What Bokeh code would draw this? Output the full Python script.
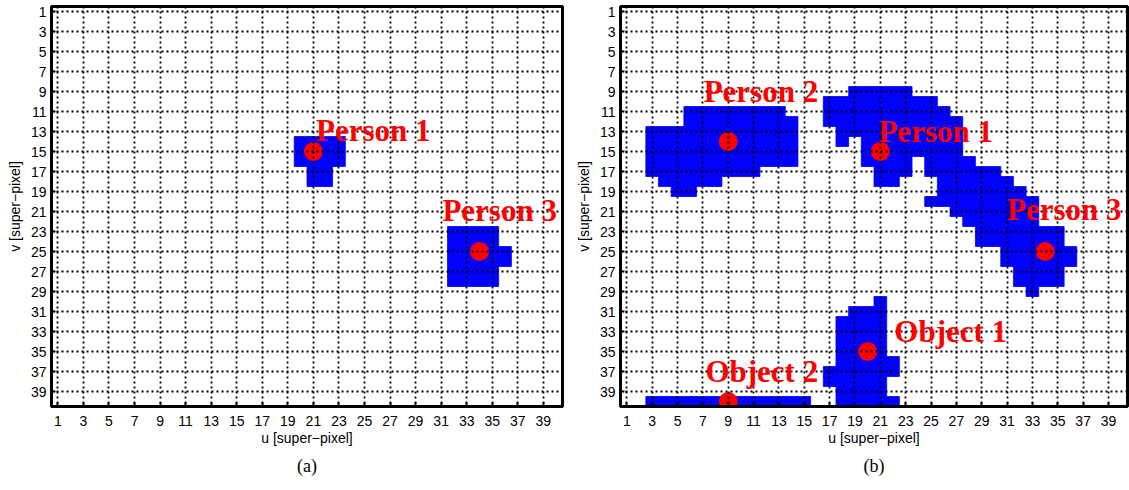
from bokeh.plotting import figure
from bokeh.layouts import row
from bokeh.models import Range1d, FixedTicker, Title, ColumnDataSource
from bokeh.core.properties import value
from bokeh.embed import file_html
from bokeh.resources import INLINE

# tick labels (odd super-pixel indices)
ticks = list(range(1, 40, 2))

# ---------------- panel (a): foreground runs (row v, first u, last u)
a_rows  = [14, 15, 16, 17, 18, 23, 24, 25, 26, 27, 28]
a_first = [20, 20, 20, 21, 21, 32, 32, 32, 32, 32, 32]
a_last  = [23, 23, 23, 22, 22, 35, 35, 36, 36, 35, 35]
a_dot_u = [21, 34]
a_dot_v = [15, 25]
a_lab_text = ["Person 1", "Person 3"]
a_lab_u = [21.2, 31.1]
a_lab_v = [12.85, 20.85]

# ---------------- panel (b): foreground runs (row v, first u, last u)
b_rows  = [11, 12, 13, 14, 15, 16, 17, 18, 19,
           9, 10, 11, 12, 13, 14, 14, 15, 16, 16, 17, 17, 18, 18,
           19, 20, 21, 22, 23, 24, 25, 26, 27, 28, 29,
           30, 31, 32, 33, 34, 35, 36, 37, 38, 39, 40,
           40]
b_first = [6, 6, 3, 3, 3, 3, 3, 4, 5,
           19, 17, 17, 17, 18, 18, 20, 20, 20, 25, 21, 25, 21, 26,
           26, 25, 27, 28, 29, 29, 31, 31, 32, 32, 33,
           21, 19, 18, 18, 18, 18, 18, 17, 17, 18, 18,
           3]
b_last  = [13, 14, 14, 14, 14, 14, 11, 8, 6,
           23, 25, 26, 27, 27, 18, 27, 27, 23, 28, 23, 30, 22, 31,
           32, 33, 33, 33, 35, 35, 36, 36, 35, 35, 33,
           21, 21, 21, 21, 21, 21, 22, 22, 21, 21, 22,
           15]
b_dot_u = [9, 21, 34, 20, 9]
b_dot_v = [14, 15, 25, 35, 40]
b_lab_text = ["Person 2", "Person 1", "Person 3", "Object 1", "Object 2"]
b_lab_u = [7.06, 20.85, 31.0, 22.1, 7.2]
b_lab_v = [8.95, 12.95, 20.75, 32.95, 36.95]


def make_panel(rows, first, last, du, dv, lt, lu, lv, caption,
               border_left, frame_w, border_right):
    p = figure(frame_width=frame_w, frame_height=400,
               x_range=Range1d(0.5, 40.5), y_range=Range1d(40.5, 0.5),
               output_backend="svg", toolbar_location=None,
               min_border_left=border_left, min_border_right=border_right,
               min_border_top=6, min_border_bottom=72)
    p.background_fill_color = "white"
    p.border_fill_color = "white"
    p.outline_line_color = "black"
    p.outline_line_width = 3
    p.outline_line_alpha = 1

    src = ColumnDataSource(dict(
        left=[f - 0.5 for f in first], right=[l + 0.5 for l in last],
        top=[r - 0.5 for r in rows], bottom=[r + 0.5 for r in rows]))
    p.quad(left="left", right="right", top="top", bottom="bottom",
           source=src, fill_color="#0000ff", line_color="#0000ff",
           line_width=0.8)
    p.scatter(x=du, y=dv, size=19, fill_color="#ff0000", line_color=None)
    t = p.text(x=lu, y=lv, text=lt, text_font=value("Liberation Serif"),
               text_font_style="bold", text_font_size="31px",
               text_color="#ff0000", text_align="left",
               text_baseline="alphabetic")
    t.level = "annotation"

    for ax in (p.xaxis[0], p.yaxis[0]):
        ax.ticker = FixedTicker(ticks=ticks)
        ax.major_tick_in = 4
        ax.major_tick_out = 0
        ax.minor_tick_in = 0
        ax.minor_tick_out = 0
        ax.axis_line_width = 3
        ax.major_tick_line_width = 2
        ax.major_label_text_font = "Liberation Sans"
        ax.major_label_text_font_size = "14px"
        ax.major_label_text_color = "black"
        ax.axis_label_text_font = "Liberation Sans"
        ax.axis_label_text_font_style = "normal"
        ax.axis_label_text_font_size = "14px"
        ax.axis_label_text_color = "black"
    p.xaxis[0].major_label_standoff = 9
    p.xaxis[0].axis_label_standoff = 1
    p.yaxis[0].major_label_standoff = 5
    p.yaxis[0].axis_label_standoff = 5
    p.xaxis[0].axis_label = "u [super\u2212pixel]"
    p.yaxis[0].axis_label = "v [super\u2212pixel]"

    for g in (p.xgrid[0], p.ygrid[0]):
        g.ticker = FixedTicker(ticks=ticks)
        g.grid_line_color = "black"
        g.grid_line_dash = "2 3"
        g.grid_line_width = 1.8
        g.grid_line_alpha = 1
        g.level = "guide"

    p.add_layout(Title(text=caption, align="center",
                       text_font="Liberation Serif", text_font_size="18px",
                       text_font_style="normal", text_color="black",
                       standoff=10), "below")
    return p


pa = make_panel(a_rows, a_first, a_last, a_dot_u, a_dot_v,
                a_lab_text, a_lab_u, a_lab_v, "(a)", 51, 511, 5)
pb = make_panel(b_rows, b_first, b_last, b_dot_u, b_dot_v,
                b_lab_text, b_lab_u, b_lab_v, "(b)", 53, 507, 2)

layout = row(pa, pb)
open("out.html", "w").write(file_html(layout, INLINE))
